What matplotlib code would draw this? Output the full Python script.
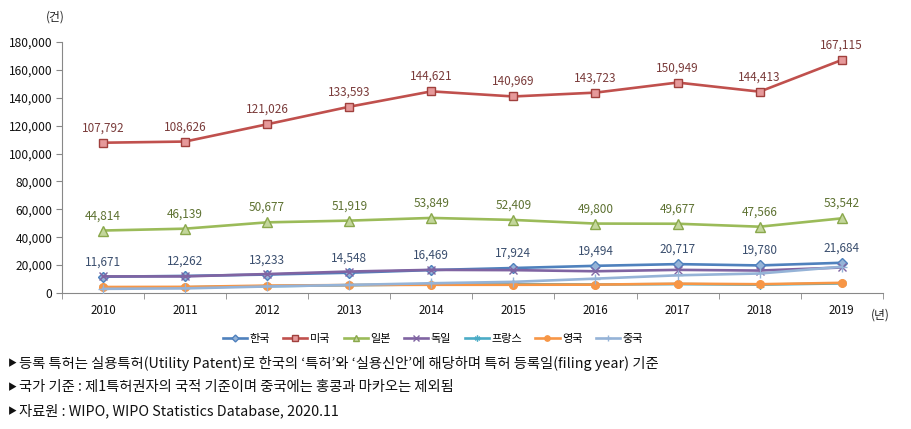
import numpy as np
import matplotlib
matplotlib.use('Agg')
import matplotlib.pyplot as plt

plt.rcParams['font.family'] = ['Noto Sans CJK KR', 'DejaVu Sans']

years = ['2010', '2011', '2012', '2013', '2014', '2015', '2016', '2017', '2018', '2019']
korea = [11671, 12262, 13233, 14548, 16469, 17924, 19494, 20717, 19780, 21684]
usa = [107792, 108626, 121026, 133593, 144621, 140969, 143723, 150949, 144413, 167115]
japan = [44814, 46139, 50677, 51919, 53849, 52409, 49800, 49677, 47566, 53542]
germany = [11900, 11900, 13600, 15400, 16600, 16400, 15600, 16600, 16100, 18300]
france = [4000, 4100, 4900, 5600, 6200, 6300, 6100, 6400, 6000, 6900]
uk = [4300, 4400, 5300, 5700, 5900, 5900, 6000, 6700, 6300, 7300]
china = [3000, 3300, 4700, 5800, 7000, 8000, 10300, 12700, 14000, 18800]

names = ['한국', '미국', '일본', '독일', '프랑스', '영국', '중국']

notes = [
    '등록 특허는 실용특허(Utility Patent)로 한국의 ‘특허’와 ‘실용신안’에 해당하며 특허 등록일(filing year) 기준',
    '국가 기준 : 제1특허권자의 국적 기준이며 중국에는 홍콩과 마카오는 제외됨',
    '자료원 : WIPO, WIPO Statistics Database, 2020.11',
]

fig = plt.figure(figsize=(9.11, 4.29), dpi=100)
ax = fig.add_axes([0.068, 0.317, 0.901, 0.585])

x = np.arange(len(years))

# (series, line colour, marker, marker face, marker edge, size)
styles = [
    (korea, '#4F81BD', 'D', '#95B3D7', '#4F81BD', 5),
    (usa, '#C0504D', 's', '#E6999A', '#A0403D', 5.5),
    (japan, '#9BBB59', '^', '#C3D69B', '#8AA84C', 6.5),
    (germany, '#8064A2', 'x', '#8064A2', '#8064A2', 5.5),
    (france, '#4BACC6', (6, 2, 0), '#4BACC6', '#4BACC6', 6),
    (uk, '#F79646', 'o', '#F79646', '#F79646', 5.5),
    (china, '#95B3D7', '+', '#95B3D7', '#95B3D7', 6.5),
]

draw_order = [6, 5, 4, 3, 0, 2, 1]
lines = {}
for i in draw_order:
    vals, col, mk, mfc, mec, ms = styles[i]
    ln, = ax.plot(x, vals, color=col, lw=1.9, marker=mk, markersize=ms,
                  markerfacecolor=mfc, markeredgecolor=mec, markeredgewidth=1,
                  label=names[i], zorder=3 + (7 - draw_order.index(i)) * 0.1)
    lines[i] = ln

label_colors = {0: '#3A4E6E', 1: '#7A3B3A', 2: '#5E7232'}
for i in [0, 1, 2]:
    vals = styles[i][0]
    for xi, v in zip(x, vals):
        ax.annotate(f'{v:,}', (xi, v), xytext=(0, 6), textcoords='offset points',
                    ha='center', va='bottom', fontsize=8.5, color=label_colors[i])

ax.set_xlim(-0.5, 9.5)
ax.set_ylim(0, 180000)
ax.set_yticks(np.arange(0, 180001, 20000))
ax.set_yticklabels([f'{v:,}' for v in range(0, 180001, 20000)], fontsize=8.6, color='#111111')
ax.set_xticks(x)
ax.set_xticklabels(years, fontsize=8.3, color='#111111', fontweight='medium')
ax.set_xticks(np.arange(-0.5, 10, 1), minor=True)
ax.tick_params(axis='x', which='major', length=0, pad=8)
ax.tick_params(axis='x', which='minor', length=4, color='#888888')
ax.tick_params(axis='y', length=4, color='#888888', pad=3)
for s in ['top', 'right']:
    ax.spines[s].set_visible(False)
ax.spines['left'].set_color('#888888')
ax.spines['bottom'].set_color('#888888')

fig.text(0.061, 0.975, '(건)', fontsize=8.5, ha='center', va='top', color='#222222')
fig.text(0.966, 0.265, '(년)', fontsize=8.5, ha='center', va='center', color='#222222')

handles = [lines[i] for i in range(7)]
fig.legend(handles, names, loc='center', bbox_to_anchor=(0.475, 0.21), ncol=7,
           frameon=False, fontsize=8, handlelength=2.2, columnspacing=1.2,
           handletextpad=0.2, markerscale=0.7)

for k, t in enumerate(notes):
    y = 0.153 - k * 0.056
    fig.text(0.009, y, '▶', fontsize=6.5, ha='left', va='center', color='#111111')
    fig.text(0.021, y, t, fontsize=10.3, ha='left', va='center', color='#111111')

fig.savefig('out.png', dpi=100)
